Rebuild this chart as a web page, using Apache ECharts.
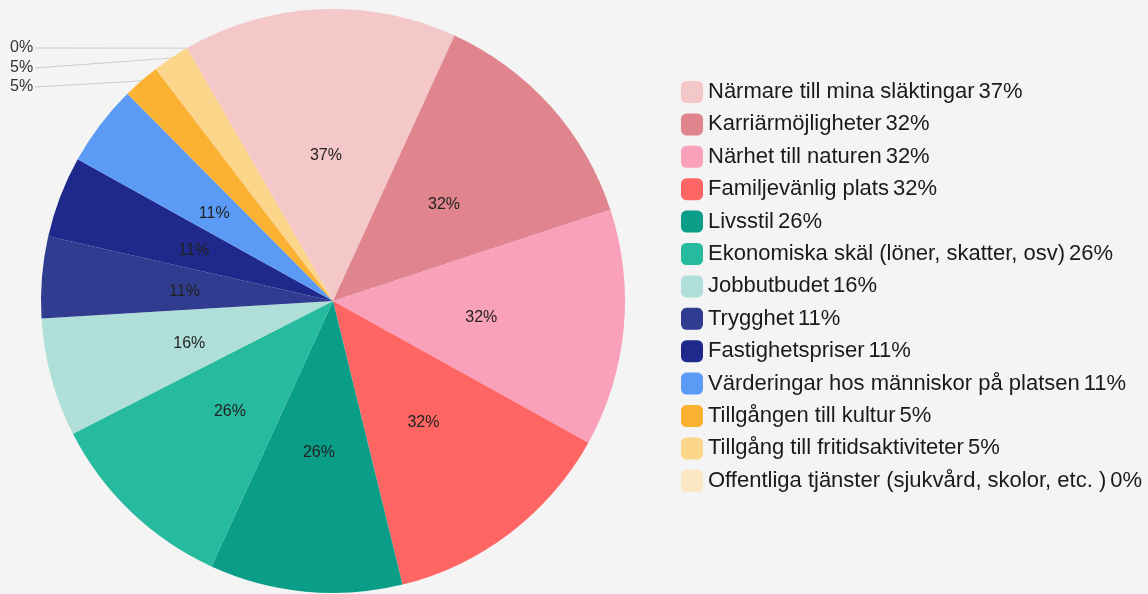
<!DOCTYPE html>
<html>
<head>
<meta charset="utf-8">
<script src="https://cdn.jsdelivr.net/npm/echarts@6/dist/echarts.min.js"></script>
<style>
  html, body { margin: 0; padding: 0; background: #f4f4f4; }
  #chart { width: 1148px; height: 594px; }
</style>
</head>
<body>
<div id="chart"></div>
<script>
var categories = [
    'Närmare till mina släktingar',
    'Karriärmöjligheter',
    'Närhet till naturen',
    'Familjevänlig plats',
    'Livsstil',
    'Ekonomiska skäl (löner, skatter, osv)',
    'Jobbutbudet',
    'Trygghet',
    'Fastighetspriser',
    'Värderingar hos människor på platsen',
    'Tillgången till kultur',
    'Tillgång till fritidsaktiviteter',
    'Offentliga tjänster (sjukvård, skolor, etc. )'
];
var percents = [37, 32, 32, 32, 26, 26, 16, 11, 11, 11, 5, 5, 0];
var colors = ['#f4c7c9', '#e0848d', '#f9a0ba', '#ff6663', '#0a9e88', '#26bb9f', '#afdfd8',
    '#2f3c8f', '#1f298b', '#5b9af5', '#fbb233', '#fad58a', '#fbe7c2'];

// the small slices get their labels outside, stacked at the top left
var outsideY = { 12: 48, 11: 68, 10: 87 };

var font = '"Liberation Sans", Arial, sans-serif';
var chart = echarts.init(document.getElementById('chart'));

var pieData = categories.map(function (name, i) {
    var item = { name: name, value: percents[i], itemStyle: { color: colors[i] } };
    if (outsideY[i] != null) {
        item.label = { position: 'outside', fontSize: 16, color: '#333', offset: [0, 0] };
        item.labelLine = { show: true, lineStyle: { color: '#cccccc', width: 1 } };
    }
    return item;
});

var option = {
    backgroundColor: '#f4f4f4',
    animation: false,
    legend: {
        orient: 'vertical',
        left: 676,
        top: 76,
        itemWidth: 22,
        itemHeight: 22,
        itemGap: 10.4,
        icon: 'roundRect',
        data: categories,
        formatter: function (name) {
            var i = categories.indexOf(name);
            return '{n|' + name + '}{p|' + percents[i] + '%}';
        },
        textStyle: {
            rich: {
                n: { fontFamily: font, fontSize: 22, lineHeight: 22, color: '#1a1a1a', padding: [0, 4, 0, 0] },
                p: { fontFamily: font, fontSize: 22, lineHeight: 22, color: '#1a1a1a' }
            }
        }
    },
    series: [{
        type: 'pie',
        center: [333, 301],
        radius: 292,
        startAngle: 120,
        clockwise: true,
        avoidLabelOverlap: false,
        data: pieData,
        label: {
            position: 'inside',
            fontFamily: font,
            fontSize: 16,
            color: '#222',
            offset: [0, 3],
            formatter: function (p) { return p.value + '%'; }
        },
        labelLine: { show: false },
        labelLayout: function (params) {
            var y = outsideY[params.dataIndex];
            if (y == null) return {};
            var pts = params.labelLinePoints;
            return {
                x: 10,
                y: y,
                align: 'left',
                verticalAlign: 'middle',
                labelLinePoints: pts ? [pts[0], [35, y]] : undefined
            };
        }
    }]
};
chart.setOption(option);
</script>
</body>
</html>
